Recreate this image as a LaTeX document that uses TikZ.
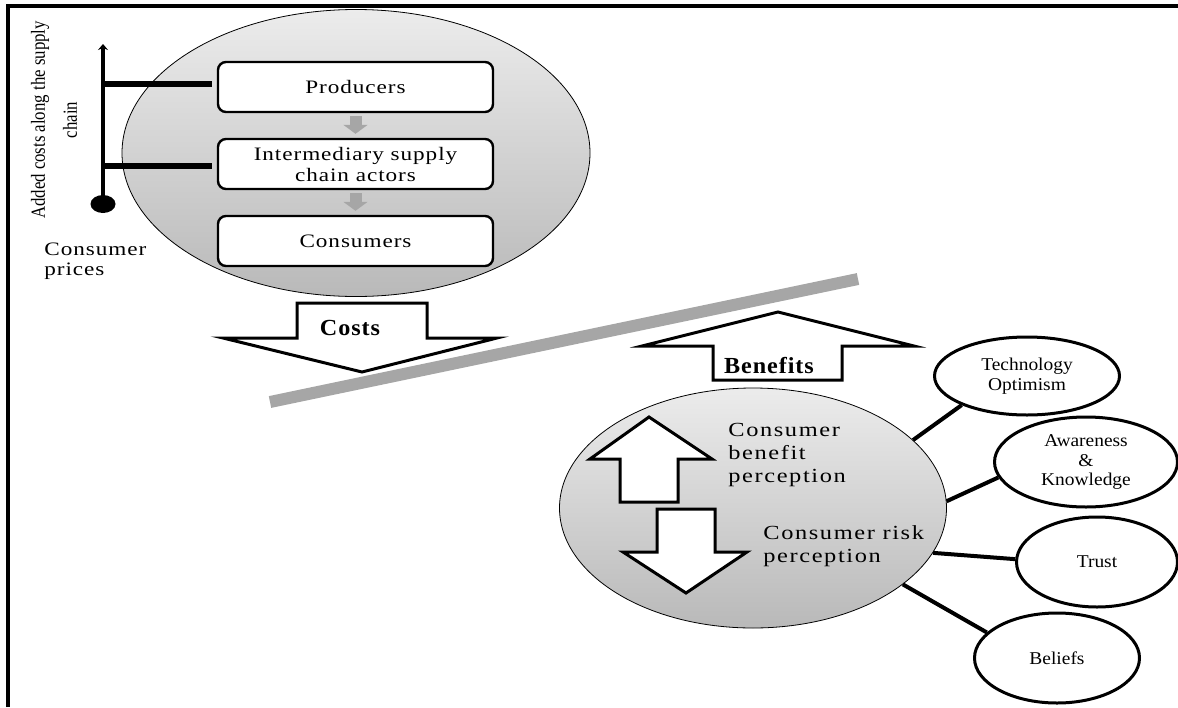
\documentclass[tikz,border=0pt]{standalone}
\usepackage{fontspec}
\setmainfont{Liberation Serif}
\newfontfamily\widefont[FakeStretch=1.22, LetterSpace=5]{Liberation Serif}
\newfontfamily\perceptfont[FakeStretch=1.22, LetterSpace=8]{Liberation Serif}
\newfontfamily\factorfont[FakeStretch=1.08]{Liberation Serif}
\newfontfamily\boldwide[FakeStretch=1.05, LetterSpace=4]{Liberation Serif}
\usetikzlibrary{shapes.geometric,arrows.meta}

\begin{document}
\begin{tikzpicture}[x=0.5pt, y=-0.5pt,
  chainbox/.style={draw, line width=1.2pt, rounded corners=4pt, fill=white,
    minimum width=137.5pt, minimum height=25pt, inner sep=1pt, align=center,
    font=\widefont\fontsize{9.5}{10.5}\selectfont},
  shadedoval/.style={ellipse, draw, line width=0.4pt, top color=gray!15,
    bottom color=gray!55, inner sep=0pt},
  factoroval/.style={ellipse, draw, line width=1.5pt, fill=white, inner sep=0pt,
    align=center, font=\factorfont\fontsize{9}{9.8}\selectfont},
  blockarrow/.style={draw, line width=1.5pt, fill=white, line join=miter},
  blocklabel/.style={inner sep=1pt, font=\boldwide\bfseries\fontsize{11.5}{13}\selectfont},
  linkline/.style={line width=2pt},
  flowarrow/.style={draw=gray!70, line width=6pt, -{Triangle[length=4.5pt, width=12pt]},
    shorten <=1.5pt, shorten >=2pt}]

  % Frame
  \useasboundingbox (0,0) rectangle (1178,707);
  \draw[line width=2pt] (8,707) -- (8,5.5) -- (1178,5.5);

  % Supply chain oval
  \node[shadedoval, minimum width=234pt, minimum height=143.5pt] (supplyoval) at (356,153) {};
  \node[chainbox] (prodbox) at (355.5,87) {Producers};
  \node[chainbox] (interbox) at (355.5,164) {Intermediary supply\\chain actors};
  \node[chainbox] (consbox) at (355.5,241) {Consumers};
  \draw[flowarrow] (prodbox) -- (interbox);
  \draw[flowarrow] (interbox) -- (consbox);

  % Added costs axis
  \node[ellipse, fill, minimum width=12.5pt, minimum height=9pt, inner sep=0pt] (pricedot) at (103,204) {};
  \coordinate (axistop) at (103,44);
  \draw[line width=2.2pt, -{Stealth[length=3pt, width=5pt]}] (pricedot.center) -- (axistop);
  \draw[line width=3pt, shorten <=2.5pt] ([yshift=1.7pt]prodbox.west) -- ([yshift=1.7pt]prodbox.west -| pricedot.center);
  \draw[line width=3pt, shorten <=2.5pt] ([yshift=-1.2pt]interbox.west) -- ([yshift=-1.2pt]interbox.west -| pricedot.center);
  \node[rotate=90, align=center, inner sep=0pt, font=\fontsize{10}{12}\selectfont] (addedlabel) at (54,120)
    {\scalebox{0.84}[1]{Added costs along the supply}\\[4pt]\scalebox{0.84}[1]{chain}};
  \node[anchor=west, align=left, inner sep=0pt, font=\widefont\fontsize{9.5}{9.8}\selectfont] (pricelabel) at (44,261)
    {Consumer\\prices};

  % Costs and benefits
  \draw[line width=6pt, gray!70] (270,402) -- (858,279);
  \draw[blockarrow] (297,303) -- (427,303) -- (427,338) -- (497,338) -- (362,372) -- (223,338) -- (297,338) -- cycle;
  \node[blocklabel] (costslabel) at (350,328) {Costs};
  \draw[blockarrow] (713,380) -- (842,380) -- (842,346) -- (914,346) -- (778,312) -- (642,346) -- (713,346) -- cycle;
  \node[blocklabel] (benefitslabel) at (769,366) {Benefits};

  % Perception oval
  \node[shadedoval, minimum width=193.5pt, minimum height=120pt] (percoval) at (753,508) {};
  \draw[blockarrow] (620,502) -- (678,502) -- (678,459) -- (712,459) -- (649,417) -- (590,459) -- (620,459) -- cycle;
  \draw[blockarrow] (657,509) -- (715,509) -- (715,552) -- (747,552) -- (686,593) -- (623,552) -- (657,552) -- cycle;
  \node[anchor=west, align=left, inner sep=0pt, font=\perceptfont\fontsize{10}{11.5}\selectfont] (benefittext) at (728,455)
    {Consumer\\benefit\\perception};
  \node[anchor=west, align=left, inner sep=0pt, font=\perceptfont\fontsize{10}{11.5}\selectfont] (risktext) at (763,546)
    {Consumer risk\\perception};

  % Factors
  \node[factoroval, minimum width=92.5pt, minimum height=39pt] (techoval) at (1027,376) {Technology\\Optimism};
  \node[factoroval, minimum width=91.5pt, minimum height=45pt] (awareoval) at (1086,462) {Awareness\\\&\\Knowledge};
  \node[factoroval, minimum width=80.5pt, minimum height=45pt] (trustoval) at (1097,562) {Trust};
  \node[factoroval, minimum width=82.5pt, minimum height=45pt] (beliefoval) at (1057,658) {Beliefs};

  % Links
  \draw[linkline] (percoval.23) -- (techoval.204);
  \draw[linkline] (percoval.2) -- (awareoval.190);
  \draw[linkline] (percoval.-14) -- (trustoval.178);
  \draw[linkline] (percoval.-27) -- (beliefoval.160);

\end{tikzpicture}
\end{document}
